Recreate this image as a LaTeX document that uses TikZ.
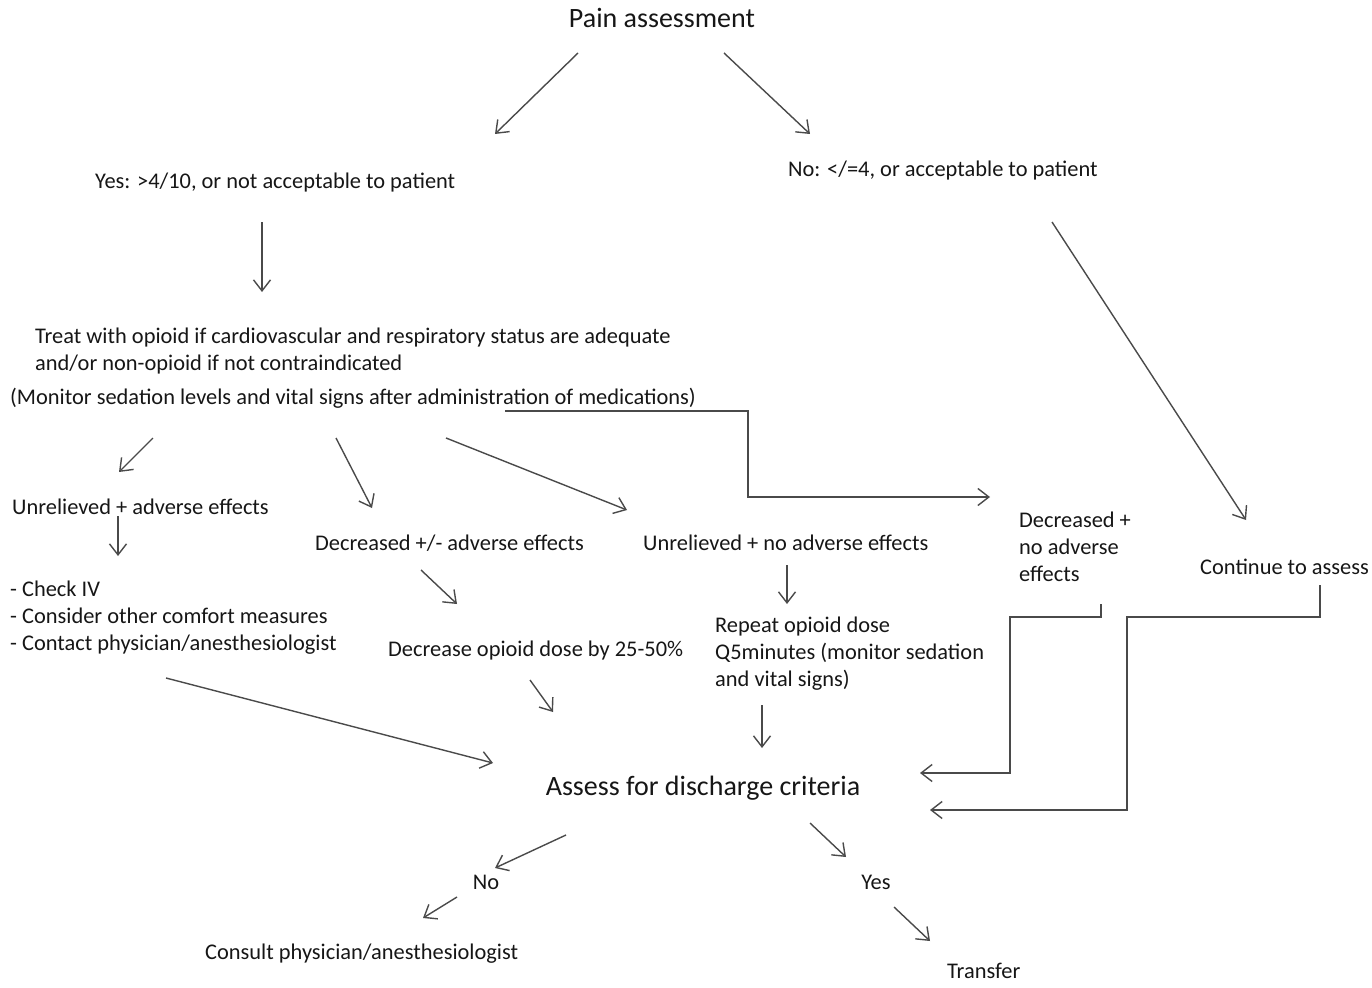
\documentclass[tikz,border=0pt]{standalone}
\usepackage{fontspec}
\setmainfont{Carlito}
\usetikzlibrary{arrows.meta}
\definecolor{ink}{HTML}{161616}
\definecolor{wire}{HTML}{4A4A4A}
\tikzset{
  lbl/.style={anchor=west, inner sep=0pt, text=ink, font=\fontsize{22.4}{27}\selectfont, align=left},
  big/.style={anchor=center, inner sep=0pt, text=ink, font=\fontsize{28}{32}\selectfont},
  flow/.style={draw=wire, line width=1.4pt, -{Straight Barb[length=11pt,width=17pt]}},
  elbow/.style={draw=wire, line width=1.4pt, -{Straight Barb[length=11pt,width=17pt]}},
}
\begin{document}
\begin{tikzpicture}[x=1pt,y=-1pt]
\useasboundingbox (0,0) rectangle (1372,987);

% text blocks
\node[big] (pain) at (662,18) {Pain assessment};
\node[lbl] (yes1) at (95,183) {Yes: >4/10, or not acceptable to patient};
\node[lbl] (no1) at (788,171) {No: </=4, or acceptable to patient};
\node[lbl] (treat) at (35,351) {Treat with opioid if cardiovascular and respiratory status are adequate\\and/or non-opioid if not contraindicated};
\node[lbl] (monitor) at (10,398) {(Monitor sedation levels and vital signs after administration of medications)};
\node[lbl] (unadv) at (12,507) {Unrelieved + adverse effects};
\node[lbl] (check) at (10,618) {- Check IV\\- Consider other comfort measures\\- Contact physician/anesthesiologist};
\node[lbl] (decpm) at (315,543) {Decreased +/- adverse effects};
\node[lbl] (unnoadv) at (643,543) {Unrelieved + no adverse effects};
\node[lbl] (decno) at (1019,547) {Decreased +\\no adverse\\effects};
\node[lbl] (cont) at (1200,567) {Continue to assess};
\node[lbl] (decdose) at (388,651) {Decrease opioid dose by 25-50\%};
\node[lbl] (repeat) at (715,654) {Repeat opioid dose\\Q5minutes (monitor sedation\\and vital signs)};
\node[big] (discharge) at (703,788) {Assess for discharge criteria};
\node[lbl, anchor=center] (no2) at (486,882) {No};
\node[lbl, anchor=center] (yes2) at (876,882) {Yes};
\node[lbl] (consult) at (205,954) {Consult physician/anesthesiologist};
\node[lbl] (transfer) at (947,971) {Transfer};

% connector end points
\coordinate (p1) at (578,53);   \coordinate (p2) at (495,134);
\coordinate (p3) at (724,53);   \coordinate (p4) at (810,134);
\coordinate (y1) at (262,222);  \coordinate (y2) at (262,292);
\coordinate (n1) at (1052,222); \coordinate (n2) at (1246,520);
\coordinate (m1) at (505,411);  \coordinate (m2) at (748,411);
\coordinate (m3) at (748,497);  \coordinate (m4) at (990,497);
\coordinate (t1) at (153,438);  \coordinate (t2) at (119,472);
\coordinate (t3) at (336,438);  \coordinate (t4) at (372,508);
\coordinate (t5) at (446,438);  \coordinate (t6) at (627,510);
\coordinate (u1) at (118,516);  \coordinate (u2) at (118,556);
\coordinate (d1) at (421,570);  \coordinate (d2) at (457,604);
\coordinate (r1) at (787,565);  \coordinate (r2) at (787,604);
\coordinate (c1) at (166,678);  \coordinate (c2) at (493,763);
\coordinate (c3) at (530,680);  \coordinate (c4) at (553,712);
\coordinate (c5) at (762,705);  \coordinate (c6) at (762,748);
\coordinate (e1) at (1101,604); \coordinate (e2) at (1101,617);
\coordinate (e3) at (1010,617); \coordinate (e4) at (1010,773);
\coordinate (e5) at (920,773);
\coordinate (k1) at (1320,585); \coordinate (k2) at (1320,617);
\coordinate (k3) at (1127,617); \coordinate (k4) at (1127,810);
\coordinate (k5) at (930,810);
\coordinate (a1) at (566,835);  \coordinate (a2) at (495,868);
\coordinate (a3) at (810,823);  \coordinate (a4) at (846,857);
\coordinate (b1) at (457,897);  \coordinate (b2) at (423,918);
\coordinate (b3) at (894,907);  \coordinate (b4) at (930,941);

% connectors
\draw[flow] (p1) -- (p2);
\draw[flow] (p3) -- (p4);
\draw[flow] (y1) -- (y2);
\draw[flow] (n1) -- (n2);
\draw[elbow] (m1) -- (m2) -- (m3) -- (m4);
\draw[flow] (t1) -- (t2);
\draw[flow] (t3) -- (t4);
\draw[flow] (t5) -- (t6);
\draw[flow] (u1) -- (u2);
\draw[flow] (d1) -- (d2);
\draw[flow] (r1) -- (r2);
\draw[flow] (c1) -- (c2);
\draw[flow] (c3) -- (c4);
\draw[flow] (c5) -- (c6);
\draw[elbow] (e1) -- (e2) -- (e3) -- (e4) -- (e5);
\draw[elbow] (k1) -- (k2) -- (k3) -- (k4) -- (k5);
\draw[flow] (a1) -- (a2);
\draw[flow] (a3) -- (a4);
\draw[flow] (b1) -- (b2);
\draw[flow] (b3) -- (b4);
\end{tikzpicture}
\end{document}
